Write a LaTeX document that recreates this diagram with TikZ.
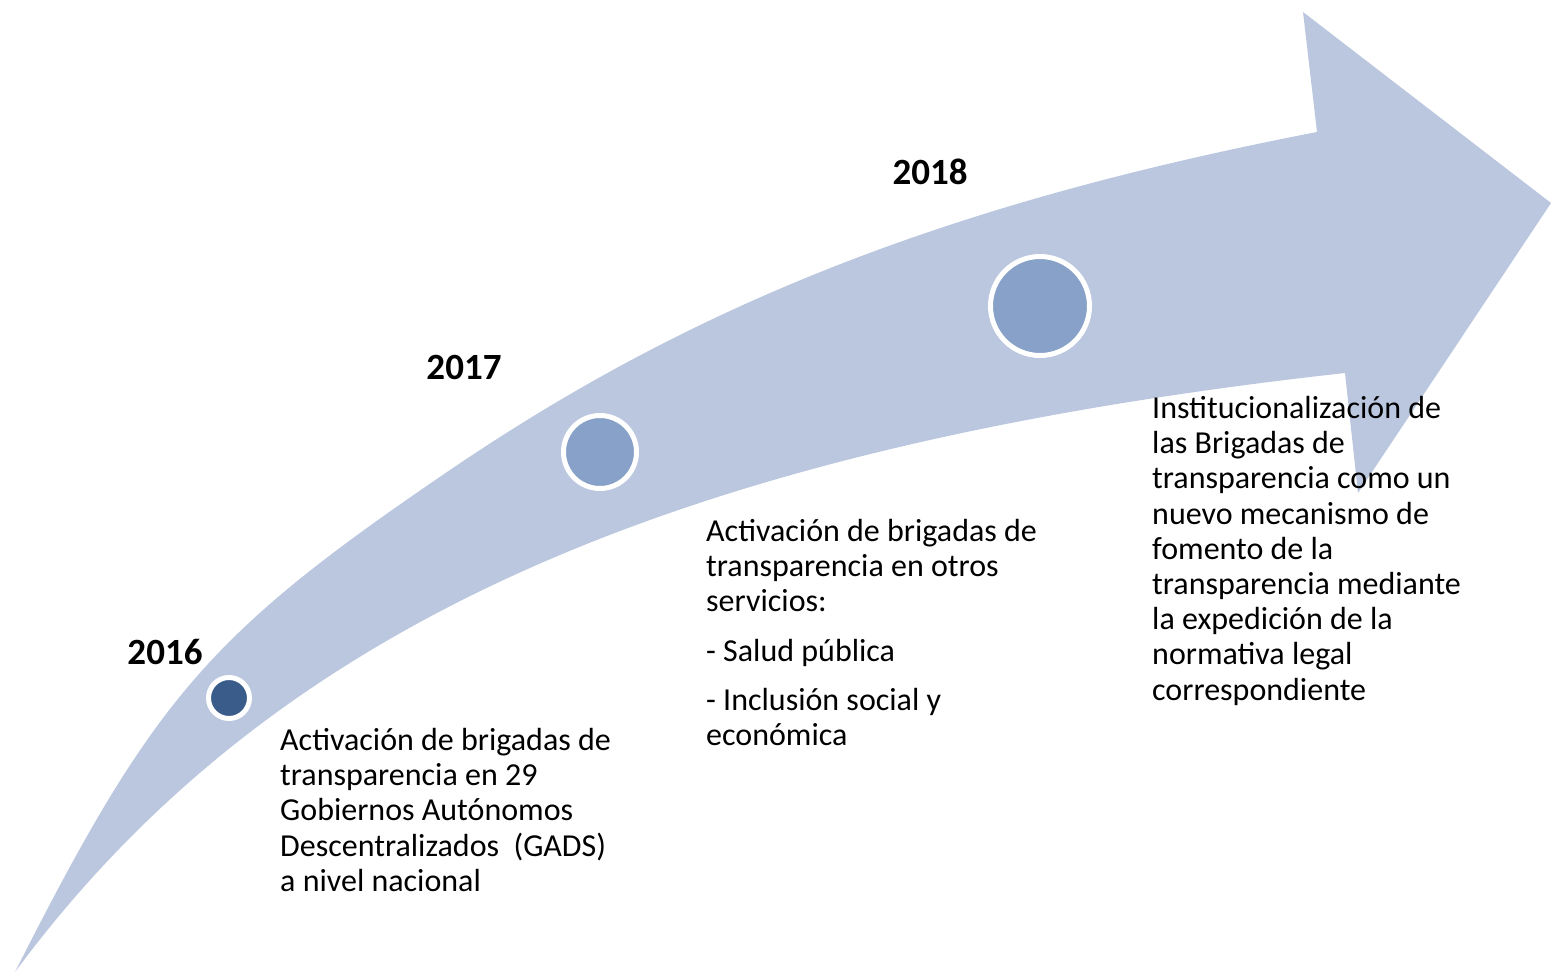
\documentclass[tikz,border=0pt]{standalone}
\usepackage{fontspec}
\setmainfont{Carlito}
\definecolor{band}{HTML}{BAC7DF}
\definecolor{dotmid}{HTML}{87A1C8}
\definecolor{dotdark}{HTML}{3A5C8A}
\begin{document}
\begin{tikzpicture}[x=1pt,y=-1pt,
  dot/.style={circle,draw=white,line width=5pt,inner sep=0pt},
  year/.style={font=\fontsize{37}{40}\selectfont\bfseries,inner sep=0pt},
  body/.style={font=\fontsize{32}{35.2}\selectfont,align=left,anchor=north west,inner sep=0pt}]
\useasboundingbox (0,0) rectangle (1551,974);
% curved arrow
\coordinate (tail) at (15,972);
\coordinate (u1) at (450,470);
\coordinate (nU) at (1317,132);
\coordinate (hT) at (1303,12);
\coordinate (tip) at (1551,203);
\coordinate (hB) at (1358,493);
\coordinate (nL) at (1345,373);
\fill[band] (tail) .. controls (154.5,696.1) and (210.2,633) .. (u1)
  .. controls (698,301.4) and (953.7,202.3) .. (nU)
  -- (hT) -- (tip) -- (hB) -- (nL)
  .. controls (669,447.8) and (269.7,627.9) .. (tail) -- cycle;
% dots
\node[dot,fill=dotdark,minimum size=41pt] (d16) at (229,698) {};
\node[dot,fill=dotmid,minimum size=73pt] (d17) at (600,452) {};
\node[dot,fill=dotmid,minimum size=99pt] (d18) at (1040,306) {};
% years
\node[year] (y16) at (165,652) {2016};
\node[year] (y17) at (464,367) {2017};
\node[year] (y18) at (930,172) {2018};
% texts
\node[body] (t16) at (280,728) {Activación de brigadas de\\transparencia en 29\\Gobiernos Autónomos\\Descentralizados\ \ (GADS)\\a nivel nacional};
\node[body] (t17) at (706,519) {Activación de brigadas de\\transparencia en otros\\servicios:\\[14pt]- Salud pública\\[14pt]- Inclusión social y\\económica};
\node[body] (t18) at (1152,396) {Institucionalización de\\las Brigadas de\\transparencia como un\\nuevo mecanismo de\\fomento de la\\transparencia mediante\\la expedición de la\\normativa legal\\correspondiente};
\end{tikzpicture}
\end{document}
